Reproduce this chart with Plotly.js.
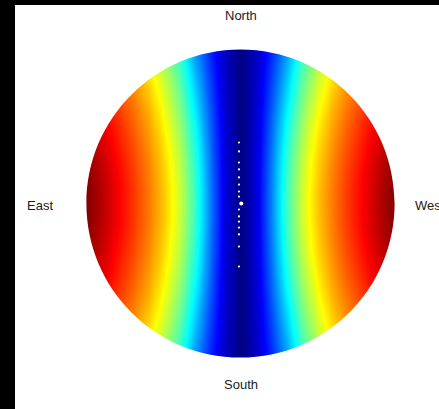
<!DOCTYPE html>
<html>
<head>
<meta charset="utf-8">
<script src="https://cdn.plot.ly/plotly-3.0.1.min.js"></script>
<style>
  html, body { margin: 0; padding: 0; background: #000; width: 439px; height: 409px; overflow: hidden; }
  #sky { position: absolute; left: 15px; top: 5px; width: 424px; height: 404px; background: #fff; }
</style>
</head>
<body>
<div id="sky"></div>
<script>
// Sample offsets from the zenith, in units of the horizon radius (used for both axes).
const offsets = [0, 0.1, 0.2, 0.3, 0.4, 0.5, 0.6, 0.7, 0.8, 0.9, 1.0, 1.1];

// One quadrant of the sky field (rows: distance from the E-W line, columns: distance
// from the meridian), normalised 0..1. The other quadrants mirror it.
const quadrant = [
  [0, 0.090, 0.250, 0.440, 0.580, 0.685, 0.760, 0.825, 0.885, 0.945, 1.000, 1.000],
  [0, 0.090, 0.249, 0.438, 0.578, 0.683, 0.758, 0.823, 0.883, 0.943, 0.998, 1.000],
  [0, 0.089, 0.245, 0.431, 0.571, 0.676, 0.753, 0.818, 0.878, 0.937, 0.991, 1.000],
  [0, 0.087, 0.239, 0.420, 0.561, 0.667, 0.744, 0.809, 0.868, 0.927, 0.981, 1.000],
  [0, 0.084, 0.231, 0.406, 0.546, 0.654, 0.733, 0.798, 0.856, 0.913, 0.967, 1.000],
  [0, 0.082, 0.221, 0.388, 0.529, 0.637, 0.719, 0.783, 0.842, 0.896, 0.950, 1.000],
  [0, 0.079, 0.210, 0.368, 0.510, 0.619, 0.704, 0.767, 0.825, 0.877, 0.929, 0.979],
  [0, 0.075, 0.197, 0.347, 0.488, 0.599, 0.685, 0.749, 0.804, 0.856, 0.906, 0.956],
  [0, 0.072, 0.185, 0.324, 0.466, 0.577, 0.661, 0.728, 0.784, 0.835, 0.883, 0.930],
  [0, 0.068, 0.172, 0.301, 0.443, 0.549, 0.636, 0.707, 0.763, 0.812, 0.858, 0.904],
  [0, 0.064, 0.159, 0.277, 0.413, 0.520, 0.610, 0.685, 0.738, 0.788, 0.833, 0.877],
  [0, 0.061, 0.146, 0.254, 0.382, 0.489, 0.582, 0.652, 0.711, 0.761, 0.805, 0.850]
];

// Track of points along the meridian, and the highlighted one at the zenith.
const trackX = [-0.01, -0.01, -0.01, -0.01, -0.01, -0.01, -0.01, -0.01, -0.01, -0.01, -0.01, -0.01, -0.01, -0.01, -0.01];
const trackY = [0.396, 0.338, 0.266, 0.221, 0.169, 0.123, 0.078, 0.045, -0.039, -0.084, -0.117, -0.156, -0.201, -0.279, -0.409];
const zenithX = [0.005];
const zenithY = [0];

const directions = ['North', 'South', 'East', 'West'];

// MATLAB-style jet colour map
const jet = [
  [0.000, 'rgb(0,0,128)'],
  [0.125, 'rgb(0,0,255)'],
  [0.375, 'rgb(0,255,255)'],
  [0.625, 'rgb(255,255,0)'],
  [0.875, 'rgb(255,0,0)'],
  [1.000, 'rgb(128,0,0)']
];

// Build the full symmetric grid from the quadrant table.
const idx = [];
for (let i = offsets.length - 1; i > 0; i--) idx.push(-i);
for (let i = 0; i < offsets.length; i++) idx.push(i);
const coords = idx.map(i => (i < 0 ? -offsets[-i] : offsets[i]));
const z = idx.map(j => idx.map(i => quadrant[Math.abs(j)][Math.abs(i)]));

// White mask outside the horizon circle (cubic Bezier circle, even-odd fill).
const k = 0.55228;
const horizonMask =
  'M -3 -3 H 3 V 3 H -3 Z ' +
  `M 1 0 C 1 ${k} ${k} 1 0 1 C ${-k} 1 -1 ${k} -1 0 ` +
  `C -1 ${-k} ${-k} -1 0 -1 C ${k} -1 1 ${-k} 1 0 Z`;

const traces = [
  {
    type: 'heatmap', x: coords, y: coords, z: z,
    colorscale: jet, zmin: 0, zmax: 1, zsmooth: 'best',
    showscale: false, hoverinfo: 'skip'
  },
  {
    type: 'scatter', mode: 'markers', x: trackX, y: trackY,
    marker: { color: '#ffffff', size: 2.2 }, hoverinfo: 'skip'
  },
  {
    type: 'scatter', mode: 'markers', x: zenithX, y: zenithY,
    marker: { color: '#ffffff', size: 4 }, hoverinfo: 'skip'
  }
];

// Compass labels, placed in paper coordinates around the plot area.
const labelFont = { family: 'Liberation Sans, Arial, Helvetica, sans-serif', size: 13, color: '#1a1a1a' };
const labelPos = {
  North: { x: 0.5,   y: 1.056,  xanchor: 'center' },
  South: { x: 0.5,   y: -0.035, xanchor: 'center' },
  East:  { x: -0.09, y: 0.494,  xanchor: 'center' },
  West:  { x: 1.009, y: 0.494,  xanchor: 'left' }
};

const layout = {
  width: 424, height: 404,
  margin: { l: 56, r: 29, t: 29, b: 36 },
  paper_bgcolor: '#ffffff', plot_bgcolor: '#ffffff',
  showlegend: false,
  xaxis: { range: [-1.1, 1.1], visible: false, fixedrange: true },
  yaxis: { range: [-1.1, 1.1], visible: false, fixedrange: true },
  shapes: [{
    type: 'path', xref: 'x', yref: 'y', path: horizonMask,
    fillcolor: '#ffffff', fillrule: 'evenodd', line: { width: 0 }, layer: 'above'
  }],
  annotations: directions.map(d => ({
    text: d, xref: 'paper', yref: 'paper', x: labelPos[d].x, y: labelPos[d].y,
    xanchor: labelPos[d].xanchor, yanchor: 'middle', showarrow: false, font: labelFont
  }))
};

Plotly.newPlot('sky', traces, layout, { displayModeBar: false, staticPlot: true });
</script>
</body>
</html>
